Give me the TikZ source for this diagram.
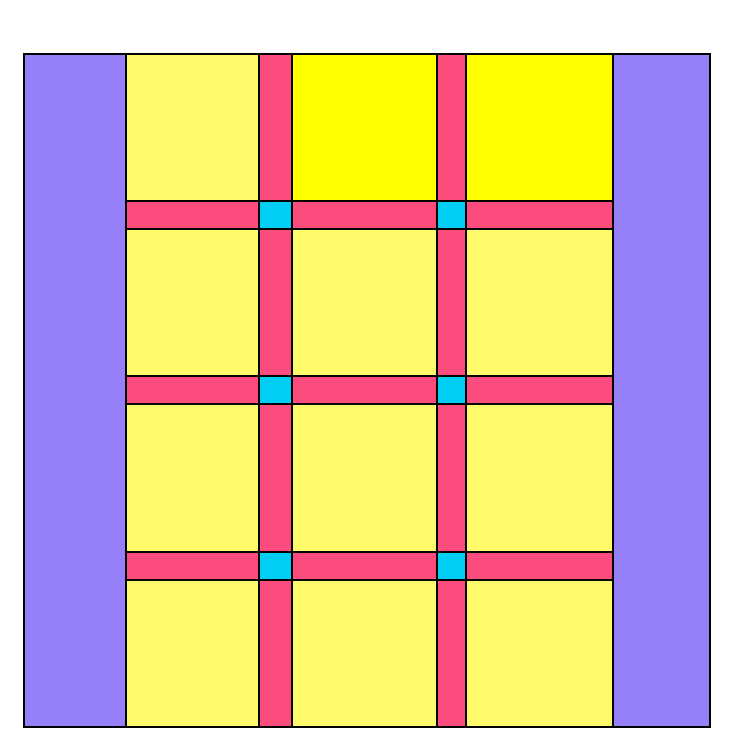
\documentclass[tikz,border=0pt]{standalone}
\definecolor{borderpurple}{RGB}{149,128,249}
\definecolor{blockyellow}{RGB}{255,250,108}
\definecolor{brightyellow}{RGB}{255,255,0}
\definecolor{sashred}{RGB}{252,76,126}
\definecolor{stonecyan}{RGB}{0,206,245}
\begin{document}
\begin{tikzpicture}[x=1pt, y=-1pt,
    patch/.style={draw=black, line width=1.4pt}]
    \useasboundingbox (0,0) rectangle (732,751);
    % side borders
    \draw[patch, fill=borderpurple] (24,54) rectangle (126,727);
    \draw[patch, fill=borderpurple] (613,54) rectangle (710,727);
    % blocks
    \foreach \xa/\xb in {126/259, 292/437, 466/613}
        \foreach \ya/\yb in {54/201, 229/376, 404/552, 580/727}
            \draw[patch, fill=blockyellow] (\xa,\ya) rectangle (\xb,\yb);
    \draw[patch, fill=brightyellow] (292,54) rectangle (437,201);
    \draw[patch, fill=brightyellow] (466,54) rectangle (613,201);
    % sashing
    \foreach \xa/\xb in {259/292, 437/466}
        \draw[patch, fill=sashred] (\xa,54) rectangle (\xb,727);
    \foreach \ya/\yb in {201/229, 376/404, 552/580}
        \draw[patch, fill=sashred] (126,\ya) rectangle (613,\yb);
    % cornerstones
    \foreach \xa/\xb in {259/292, 437/466}
        \foreach \ya/\yb in {201/229, 376/404, 552/580}
            \draw[patch, fill=stonecyan] (\xa,\ya) rectangle (\xb,\yb);
    % outer frame
    \draw[patch] (24,54) rectangle (710,727);
\end{tikzpicture}
\end{document}
